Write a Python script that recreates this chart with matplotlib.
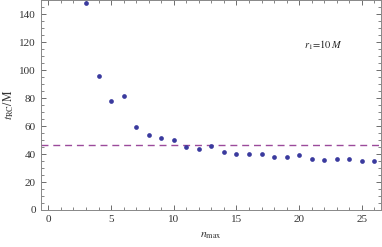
import matplotlib
matplotlib.use("Agg")
import matplotlib.pyplot as plt
from matplotlib.ticker import MultipleLocator

plt.rcParams['font.family'] = ['Liberation Serif', 'DejaVu Serif']
plt.rcParams['mathtext.fontset'] = 'stix'

n_max = [3, 4, 5, 6, 7, 8, 9, 10, 11, 12, 13, 14, 15, 16, 17, 18, 19, 20,
         21, 22, 23, 24, 25, 26]
t_rc = [148, 95.7, 77.9, 81.9, 59.5, 53.6, 51.7, 50.0, 45.2, 43.8, 45.5,
        41.7, 40.2, 40.2, 40.0, 37.9, 37.6, 39.2, 36.8, 36.1, 36.4, 36.4,
        35.2, 35.2]
t_ref = 46.2

fig = plt.figure(figsize=(3.82, 2.47), dpi=100)
ax = fig.add_axes([0.107, 0.15, 0.891, 0.848])

ax.axhline(t_ref, color='#9b4a9b', lw=1.0, dashes=(5, 3.5))
ax.plot(n_max, t_rc, 'o', color='#3a3a9e', ms=3.4, mec='none')

ax.set_xlim(-0.6, 26.55)
ax.set_ylim(0, 150)
ax.xaxis.set_major_locator(MultipleLocator(5))
ax.xaxis.set_minor_locator(MultipleLocator(1))
ax.yaxis.set_major_locator(MultipleLocator(20))
ax.yaxis.set_minor_locator(MultipleLocator(5))
ax.tick_params(which='both', direction='in', top=True, right=True,
               labelsize=8, colors='#555555', labelcolor='#333333')
ax.tick_params(which='major', length=3.5, width=0.6)
ax.tick_params(which='minor', length=2, width=0.5)
for s in ax.spines.values():
    s.set_color('#888888')
    s.set_linewidth(0.7)

ax.set_xlabel(r'$n_{\rm max}$', fontsize=8.5, color='#333333', labelpad=4)
ax.set_ylabel(r'$t_{\rm RC}/{\rm M}$', fontsize=8.5, color='#333333', labelpad=2)
ax.text(20.4, 118, r'$r_1\!=\!10\,M$', fontsize=7.5, color='#222222',
        va='center')

fig.savefig('out.png', dpi=100)
